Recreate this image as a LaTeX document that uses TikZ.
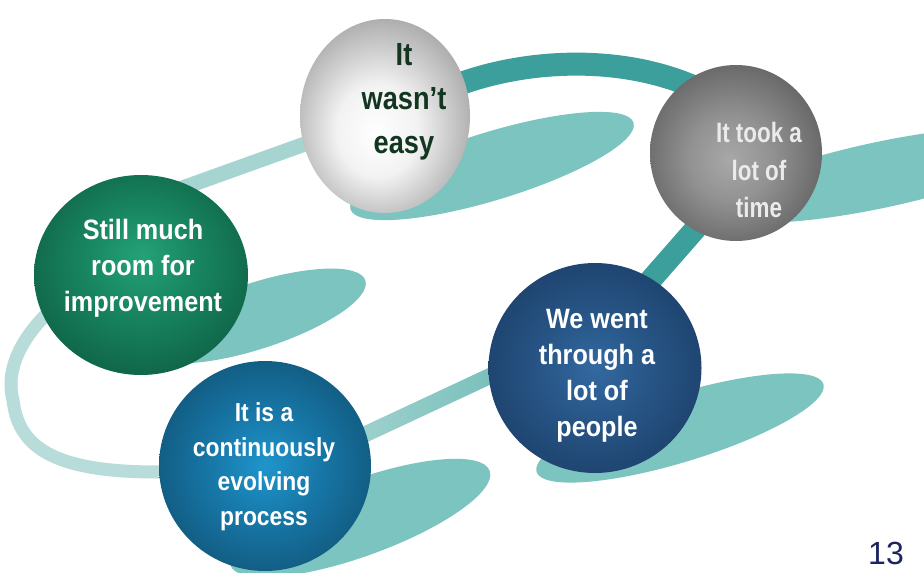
\documentclass[tikz,border=0pt]{standalone}
\usepackage{fontspec}
\setmainfont{Liberation Sans}
\newfontfamily\condA[FakeStretch=0.85]{Liberation Sans}
\newfontfamily\condB[FakeStretch=0.80]{Liberation Sans}
\newfontfamily\condC[FakeStretch=0.90]{Liberation Sans}
\newfontfamily\condD[FakeStretch=0.88]{Liberation Sans}
\usetikzlibrary{shapes.geometric}

% ribbon and shadow colours
\definecolor{ribdark}{HTML}{3C9F9B}
\definecolor{ribmid}{HTML}{68B8B3}
\definecolor{ribpale}{HTML}{A6D4D1}
\definecolor{ribpaler}{HTML}{B8DCDA}
\definecolor{shadowteal}{HTML}{7CC4C0}
\definecolor{pagenum}{HTML}{1B2360}
\definecolor{darktext}{HTML}{12361F}

% sphere shading colours
\definecolor{gA0}{HTML}{FFFFFF}\definecolor{gA1}{HTML}{F2F2F2}
\definecolor{gA2}{HTML}{9E9E9E}\definecolor{gA3}{HTML}{686868}\definecolor{gA4}{HTML}{565656}
\definecolor{gB0}{HTML}{A8A8A8}\definecolor{gB1}{HTML}{929292}
\definecolor{gB2}{HTML}{565656}\definecolor{gB3}{HTML}{383838}\definecolor{gB4}{HTML}{2A2A2A}
\definecolor{gC0}{HTML}{25A277}\definecolor{gC1}{HTML}{188660}
\definecolor{gC2}{HTML}{0C5A40}\definecolor{gC3}{HTML}{07412E}\definecolor{gC4}{HTML}{053325}
\definecolor{gD0}{HTML}{3369A1}\definecolor{gD1}{HTML}{275586}
\definecolor{gD2}{HTML}{1A3B63}\definecolor{gD3}{HTML}{132C4D}\definecolor{gD4}{HTML}{0F223E}
\definecolor{gE0}{HTML}{1F95CD}\definecolor{gE1}{HTML}{1777A7}
\definecolor{gE2}{HTML}{0F4E6F}\definecolor{gE3}{HTML}{0B3A56}\definecolor{gE4}{HTML}{082D45}

\pgfdeclareradialshading{ballA}{\pgfpoint{-3bp}{-5bp}}{color(0bp)=(gA0); color(12bp)=(gA1); color(31bp)=(gA2); color(44bp)=(gA3); color(50bp)=(gA4)}
\pgfdeclareradialshading{ballB}{\pgfpoint{-2bp}{-2bp}}{color(0bp)=(gB0); color(12bp)=(gB1); color(33bp)=(gB2); color(45bp)=(gB3); color(50bp)=(gB4)}
\pgfdeclareradialshading{ballC}{\pgfpoint{0bp}{5bp}}{color(0bp)=(gC0); color(13bp)=(gC1); color(33bp)=(gC2); color(45bp)=(gC3); color(50bp)=(gC4)}
\pgfdeclareradialshading{ballD}{\pgfpoint{0bp}{0bp}}{color(0bp)=(gD0); color(13bp)=(gD1); color(33bp)=(gD2); color(45bp)=(gD3); color(50bp)=(gD4)}
\pgfdeclareradialshading{ballE}{\pgfpoint{0bp}{0bp}}{color(0bp)=(gE0); color(13bp)=(gE1); color(33bp)=(gE2); color(45bp)=(gE3); color(50bp)=(gE4)}

\tikzset{
  sphere/.style={ellipse, inner sep=0pt, shade, shading=#1},
  balltext/.style={align=center, inner sep=0pt, text=white},
  ribbon/.style={line width=#1, line cap=butt},
  shadowblob/.style={fill=shadowteal},
}

\begin{document}
\begin{tikzpicture}[x=1pt, y=-1pt]
  \useasboundingbox (0,0) rectangle (924,573);
  \fill[white] (0,0) rectangle (924,573);
  \clip (0,0) rectangle (924,573);

  % cast shadows of the spheres
  \fill[shadowblob, rotate around={17:(492,166)}] (492,166) ellipse [x radius=148, y radius=34];
  \fill[shadowblob, rotate around={12:(880,175)}] (880,175) ellipse [x radius=170, y radius=33];
  \fill[shadowblob, rotate around={18:(256,316)}] (256,316) ellipse [x radius=115, y radius=33];
  \fill[shadowblob, rotate around={17:(680,428)}] (680,428) ellipse [x radius=150, y radius=34];
  \fill[shadowblob, rotate around={20:(360,518)}] (360,518) ellipse [x radius=138, y radius=38];

  % ribbon anchor points (hidden behind the spheres)
  \coordinate (ra) at (440,92);
  \coordinate (rb) at (705,92);
  \coordinate (rc) at (740,178);
  \coordinate (rd) at (620,315);
  \coordinate (rl0) at (75,290);
  \coordinate (rl1) at (13,400);
  \coordinate (rl2) at (157,472);
  \coordinate (rl3) at (215,470);
  \coordinate (ru0) at (160,196);
  \coordinate (ru1) at (330,135);

  % ribbon loop
  \draw[ribbon=23pt, ribdark] (ra) .. controls (510,60) and (620,50) .. (rb);
  \draw[ribbon=22pt, ribdark] (rc) -- (rd);
  \shade[left color=ribpale, right color=ribmid]
    (330,441.9) -- (560,334.5) -- (560,352.1) -- (330,459.5) -- cycle;
  \draw[ribbon=13pt, ribpaler] (rl0) .. controls (20,330) and (5,370) .. (rl1)
    .. controls (18,445) and (50,472) .. (rl2) -- (rl3);
  \draw[ribbon=15pt, ribpale] (ru0) -- (ru1);

  % spheres
  \node[sphere=ballA, minimum width=170pt, minimum height=194pt] (s1) at (385,116) {};
  \node[sphere=ballB, minimum width=172pt, minimum height=176pt] (s2) at (736,153) {};
  \node[sphere=ballC, minimum width=214pt, minimum height=200pt] (s3) at (141,275) {};
  \node[sphere=ballD, minimum width=213pt, minimum height=210pt] (s4) at (595,368) {};
  \node[sphere=ballE, minimum width=212pt, minimum height=210pt] (s5) at (265,466) {};

  % sphere captions
  \node[balltext, text=darktext, font=\condA\bfseries\fontsize{32}{44}\selectfont] (t1) at (404,102) {It\\wasn’t\\easy};
  \node[balltext, text=white!92!black, font=\condB\bfseries\fontsize{28}{37.5}\selectfont] (t2) at (759,170) {It took a\\lot of\\time};
  \node[balltext, font=\condC\bfseries\fontsize{28}{36}\selectfont] (t3) at (143,268) {Still much\\room for\\improvement};
  \node[balltext, font=\condC\bfseries\fontsize{28}{36}\selectfont] (t4) at (597,376) {We went\\through a\\lot of\\people};
  \node[balltext, font=\condD\bfseries\fontsize{26}{34.5}\selectfont] (t5) at (264,467) {It is a\\continuously\\evolving\\process};

  % page number
  \node[text=pagenum, font=\fontsize{32}{36}\selectfont, inner sep=0pt] (pg) at (886,553) {13};
\end{tikzpicture}
\end{document}
